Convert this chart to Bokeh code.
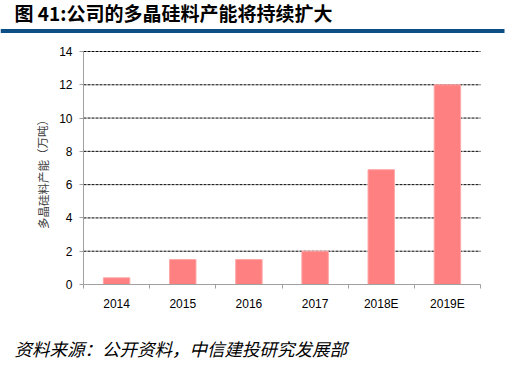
from bokeh.plotting import figure
from bokeh.models import Range1d, FixedTicker, LinearAxis
from bokeh.core.properties import value
from bokeh.embed import file_html
from bokeh.resources import INLINE

categories = ["2014", "2015", "2016", "2017", "2018E", "2019E"]
capacity = [0.4, 1.5, 1.5, 2.0, 6.9, 12.0]
y_ticks = [0, 2, 4, 6, 8, 10, 12, 14]
title_text = "图 41:公司的多晶硅料产能将持续扩大"
y_label = "多晶硅料产能（万吨）"
source_text = "资料来源：公开资料，中信建投研究发展部"

CJK = "Noto Sans CJK SC"
W, H = 511, 365
# plot area in canvas pixels
FL, FR, FT, FB = 83, 480, 51, 284
YMAX = 14
n = len(categories)
kx = (FR - FL) / n
ky = (FB - FT) / YMAX

def dx(px):
    return (px - FL) / kx

def dy(py):
    return (FB - py) / ky

p = figure(width=W, height=H, x_range=Range1d(dx(0), dx(W)), y_range=Range1d(dy(H), dy(0)),
           output_backend="svg", toolbar_location=None, x_axis_type=None, y_axis_type=None,
           min_border=0)
p.outline_line_color = None
p.grid.visible = False

xs = [i + 0.5 for i in range(n)]

# dashed gridlines
p.segment(x0=[0] * len(y_ticks[1:]), x1=[n] * len(y_ticks[1:]), y0=y_ticks[1:], y1=y_ticks[1:],
          line_color="#000000", line_dash="3 1", line_width=1)

p.vbar(x=xs, top=capacity, width=0.4, fill_color="#FF8080", line_color="#FFA8A8", line_width=1)

xa = LinearAxis(fixed_location=0, bounds=(0, n))
xa.ticker = FixedTicker(ticks=xs, minor_ticks=list(range(n + 1)))
xa.major_label_overrides = {x: c for x, c in zip(xs, categories)}
xa.major_tick_line_color = None
xa.major_tick_out = 0
xa.major_tick_in = 0
xa.minor_tick_line_color = "#a0a0a0"
xa.minor_tick_out = 4
xa.minor_tick_in = 0
xa.axis_line_color = "#a0a0a0"
xa.major_label_standoff = 8
xa.major_label_text_font = "Liberation Sans"
xa.major_label_text_font_size = "12px"
xa.major_label_text_color = "#000000"
p.add_layout(xa, "below")

ya = LinearAxis(fixed_location=0, bounds=(0, YMAX))
ya.ticker = FixedTicker(ticks=y_ticks)
ya.axis_line_color = "#a0a0a0"
ya.major_tick_line_color = "#a0a0a0"
ya.major_tick_out = 4
ya.major_tick_in = 0
ya.minor_tick_line_color = None
ya.major_label_standoff = 7
ya.major_label_text_font = "Liberation Sans"
ya.major_label_text_font_size = "12px"
ya.major_label_text_color = "#000000"
p.add_layout(ya, "left")

# y axis title
p.text(x=[dx(42)], y=[dy(171)], text=[y_label], angle=[1.5708],
       text_font=value(CJK), text_font_size="11.5px", text_color="#404040",
       text_align="center", text_baseline="middle")

# header and footer
p.text(x=[dx(14)], y=[dy(12)], text=[title_text], text_font=value(CJK), text_font_style="bold",
       text_font_size="19px", text_baseline="middle", text_align="left", text_color="#000000")
p.segment(x0=[dx(0)], x1=[dx(504)], y0=[dy(30.5)], y1=[dy(30.5)], line_color="#0b4f86", line_width=4)
p.text(x=[dx(14)], y=[dy(348)], text=[source_text], text_font=value(CJK), text_font_style="italic",
       text_font_size="17.5px", text_baseline="middle", text_align="left", text_color="#000000")

open("out.html", "w").write(file_html(p, INLINE))
